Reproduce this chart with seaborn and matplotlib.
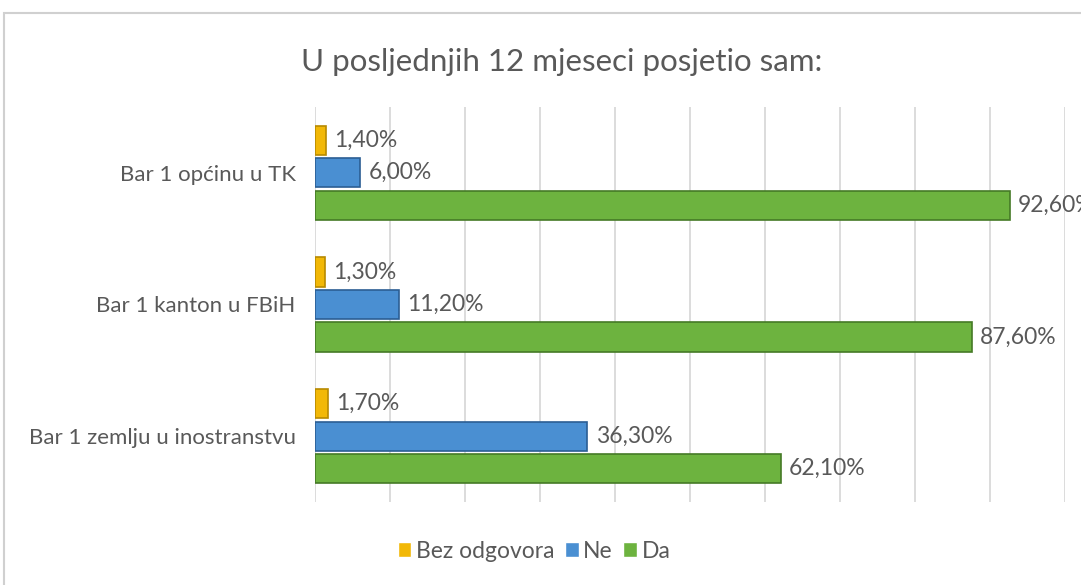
import matplotlib
matplotlib.use("Agg")
import matplotlib.pyplot as plt
import seaborn as sns
import pandas as pd
from matplotlib.patches import Rectangle

categories = ["Bar 1 općinu u TK", "Bar 1 kanton u FBiH", "Bar 1 zemlju u inostranstvu"]
series_names = ["Bez odgovora", "Ne", "Da"]
bez_odgovora = [1.40, 1.30, 1.70]
ne = [6.00, 11.20, 36.30]
da = [92.60, 87.60, 62.10]
title = "U posljednjih 12 mjeseci posjetio sam:"

colors = {"Bez odgovora": "#F2B807", "Ne": "#4A8FD2", "Da": "#6DB33F"}
edges = {"Bez odgovora": "#B88A00", "Ne": "#2B5E94", "Da": "#457A26"}

rows = []
for name, vals in zip(series_names, [bez_odgovora, ne, da]):
    for c, v in zip(categories, vals):
        rows.append({"cat": c, "series": name, "val": v})
df = pd.DataFrame(rows)

sns.set_theme(style="white")
plt.rcParams["font.family"] = ["Lato", "DejaVu Sans"]
txt = "#595959"

fig = plt.figure(figsize=(10.81, 5.85), dpi=100)
fig.patch.set_facecolor("white")
fig.add_artist(Rectangle((4 / 1081, -0.05), 1.1, 1 - 13 / 585 + 0.05,
                         transform=fig.transFigure, fill=False,
                         edgecolor="#d0d0d0", linewidth=1.5))

ax = fig.add_axes([315 / 1081, 83 / 585, 750 / 1081, 395 / 585])
sns.barplot(data=df, y="cat", x="val", hue="series", hue_order=series_names,
            order=categories, palette=colors, orient="h", width=0.74, gap=0.1,
            ax=ax, legend=True, saturation=1)

for cont, name in zip(ax.containers, series_names):
    for p in cont:
        p.set_edgecolor(edges[name])
        p.set_linewidth(1.2)
    ax.bar_label(cont, labels=[f"{v:.2f}".replace(".", ",") + "%" for v in cont.datavalues],
                 padding=6, fontsize=16.5, color=txt)

ax.set_xlim(0, 100)
ax.set_xticks(range(0, 101, 10))
ax.set_xticklabels([])
ax.tick_params(axis="x", length=0)
ax.tick_params(axis="y", length=0, pad=14, labelsize=16, labelcolor=txt)
ax.grid(axis="x", color="#d9d9d9", linewidth=1.3)
ax.set_axisbelow(True)
for s in ax.spines.values():
    s.set_visible(False)
ax.set_xlabel("")
ax.set_ylabel("")

fig.text(0.52, 1 - 62 / 585, title, ha="center", va="center", fontsize=22.5, color=txt)

handles, labels = ax.get_legend_handles_labels()
ax.legend_.remove()
fig.legend(handles, labels, loc="center", bbox_to_anchor=(0.494, 34 / 585), ncol=3,
           frameon=False, fontsize=16.5, labelcolor=txt, handlelength=0.6,
           handleheight=0.6, handletextpad=0.2, columnspacing=0.45)

fig.savefig("out.png", dpi=100)
